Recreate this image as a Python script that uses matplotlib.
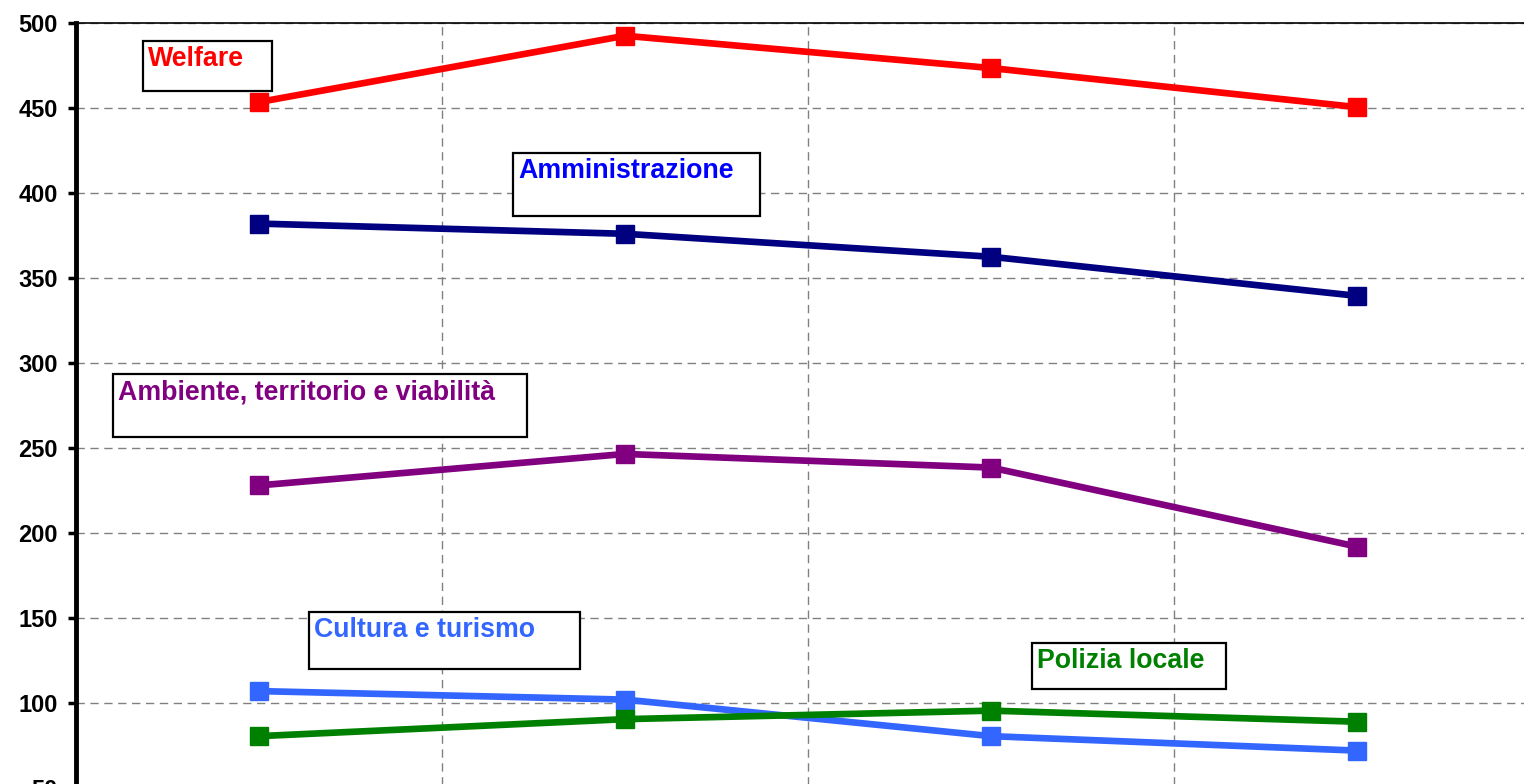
import matplotlib
matplotlib.use("Agg")
import matplotlib.pyplot as plt
from matplotlib.patches import Rectangle

plt.rcParams['font.family'] = ['Liberation Sans', 'DejaVu Sans']

periods = [0.5, 1.5, 2.5, 3.5]
welfare = [453.5, 492.5, 473.5, 450.5]
amministrazione = [382.0, 376.0, 362.5, 339.5]
ambiente = [228.0, 246.5, 238.5, 192.0]
cultura = [107.0, 102.0, 80.5, 72.0]
polizia = [80.5, 90.5, 95.5, 89.0]

series = [
    ("Welfare", welfare, "#FF0000", "#FF0000", (143, 41, 272, 91)),
    ("Amministrazione", amministrazione, "#000080", "#0000FF", (513, 153, 760, 216)),
    ("Ambiente, territorio e viabilità", ambiente, "#800080", "#800080", (113, 374, 527, 437)),
    ("Cultura e turismo", cultura, "#3366FF", "#3366FF", (309, 612, 580, 669)),
    ("Polizia locale", polizia, "#008000", "#008000", (1032, 643, 1226, 689)),
]

W, H = 1524, 784
fig = plt.figure(figsize=(W / 100, H / 100), dpi=100)
ax_l, ax_r, ax_t, ax_b = 76, 1540, 23, 788
ax = fig.add_axes([ax_l / W, 1 - ax_b / H, (ax_r - ax_l) / W, (ax_b - ax_t) / H])
ax.set_xlim(0, 4)
ax.set_ylim(50, 500)

for name, vals, lc, tc, box in series:
    ax.plot(periods, vals, color=lc, lw=4.8, marker='s', markersize=13,
            solid_joinstyle='miter', zorder=3)

ax.set_yticks(range(50, 501, 50))
ax.set_xticks([1, 2, 3])
ax.set_xticklabels([])
ax.tick_params(axis='x', length=0)
ax.tick_params(axis='y', length=6, width=2.5, pad=7, labelsize=17)
for lab in ax.get_yticklabels():
    lab.set_fontweight('bold')
ax.grid(True, color='#808080', linestyle=(0, (6, 4)), lw=1)
ax.spines['left'].set_linewidth(3.5)
ax.spines['top'].set_linewidth(1.2)
ax.spines['right'].set_visible(False)
ax.spines['bottom'].set_visible(False)

for name, vals, lc, tc, (x0, y0, x1, y1) in series:
    rect = Rectangle((x0 / W, 1 - y1 / H), (x1 - x0) / W, (y1 - y0) / H,
                     transform=fig.transFigure, facecolor='white',
                     edgecolor='black', lw=1.6, zorder=5)
    fig.patches.append(rect)
    fig.text((x0 + 5) / W, 1 - (y0 + 5) / H, name, color=tc, fontsize=19.3,
             fontweight='bold', ha='left', va='top', zorder=6)

fig.savefig("out.png", dpi=100)
